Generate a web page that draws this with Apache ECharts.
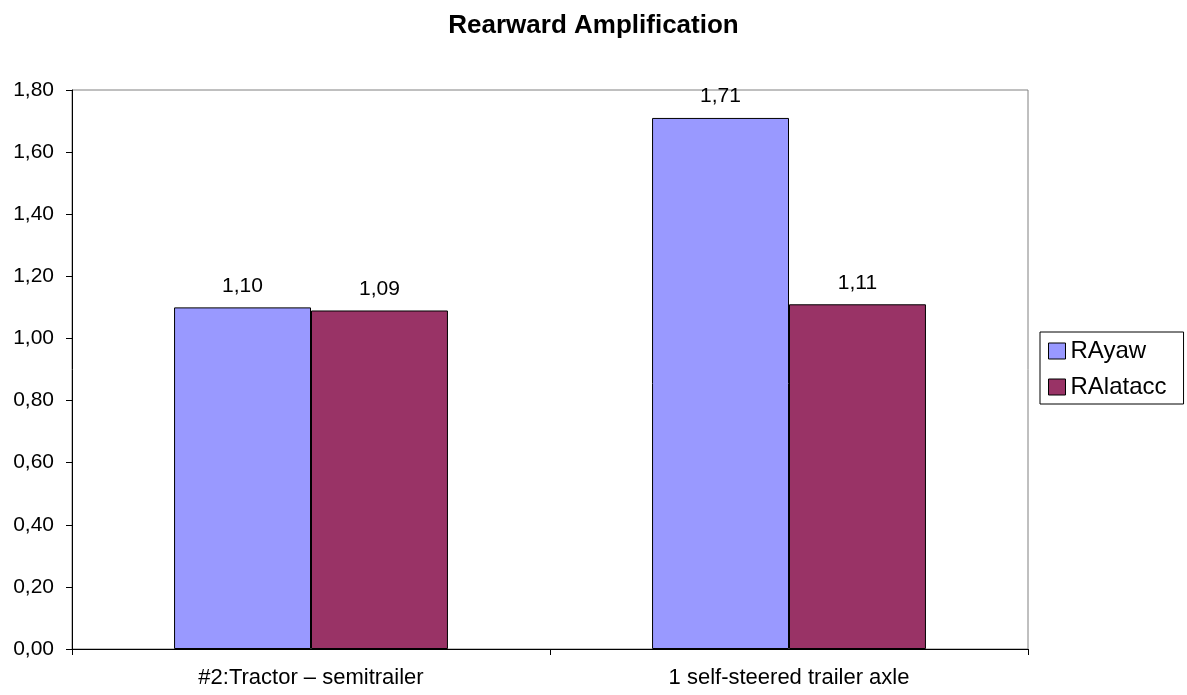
<!DOCTYPE html>
<html>
<head>
<meta charset="utf-8">
<script src="https://cdn.jsdelivr.net/npm/echarts@6/dist/echarts.min.js"></script>
<style>html,body{margin:0;padding:0;background:#fff}#c{width:1187px;height:695px}</style>
</head>
<body>
<div id="c"></div>
<script>
const categories = ['#2:Tractor \u2013 semitrailer', '1 self-steered trailer axle'];
const seriesNames = ['RAyaw', 'RAlatacc'];
const raYaw = [1.10, 1.71];
const raLatacc = [1.09, 1.11];
const colors = ['#9999FF', '#993366'];
const fmt = v => v.toFixed(2).replace('.', ',');
const font = 'Liberation Sans, Arial, sans-serif';
const chart = echarts.init(document.getElementById('c'));
const mk = (name, data, color) => ({
  name, type: 'bar', data, barGap: '0%', barCategoryGap: '42.7%',
  itemStyle: { color, borderColor: '#000', borderWidth: 1 },
  label: { show: true, position: 'top', distance: 11, formatter: p => fmt(p.value), color: '#000', fontSize: 21, fontFamily: font }
});
chart.setOption({
  animation: false,
  backgroundColor: '#fff',
  title: { text: 'Rearward Amplification', left: 'center', top: 8, textStyle: { fontFamily: font, fontSize: 26, fontWeight: 'bold', color: '#000' } },
  grid: { left: 72, top: 90, right: 159, bottom: 46, show: true, borderColor: '#808080', borderWidth: 1 },
  legend: {
    data: seriesNames, orient: 'vertical', left: 1040, top: 332,
    itemWidth: 17, itemHeight: 16, itemGap: 12, icon: 'rect',
    padding: [7, 17, 5, 8], borderColor: '#000', borderWidth: 1,
    itemStyle: { borderColor: '#000', borderWidth: 1 },
    textStyle: { fontFamily: font, fontSize: 24, color: '#000' }
  },
  xAxis: {
    type: 'category', data: categories,
    axisLine: { lineStyle: { color: '#000' } },
    axisTick: { show: true, length: 6, alignWithLabel: false, lineStyle: { color: '#000' } },
    axisLabel: { fontFamily: font, fontSize: 22, color: '#000', margin: 18 }
  },
  yAxis: {
    type: 'value', min: 0, max: 1.8, interval: 0.2,
    axisLine: { show: true, lineStyle: { color: '#000' } },
    axisTick: { show: true, length: 6, lineStyle: { color: '#000' } },
    splitLine: { show: false },
    axisLabel: { fontFamily: font, fontSize: 21, color: '#000', margin: 18, formatter: v => fmt(v) }
  },
  series: [mk(seriesNames[0], raYaw, colors[0]), mk(seriesNames[1], raLatacc, colors[1])]
});
</script>
</body>
</html>
